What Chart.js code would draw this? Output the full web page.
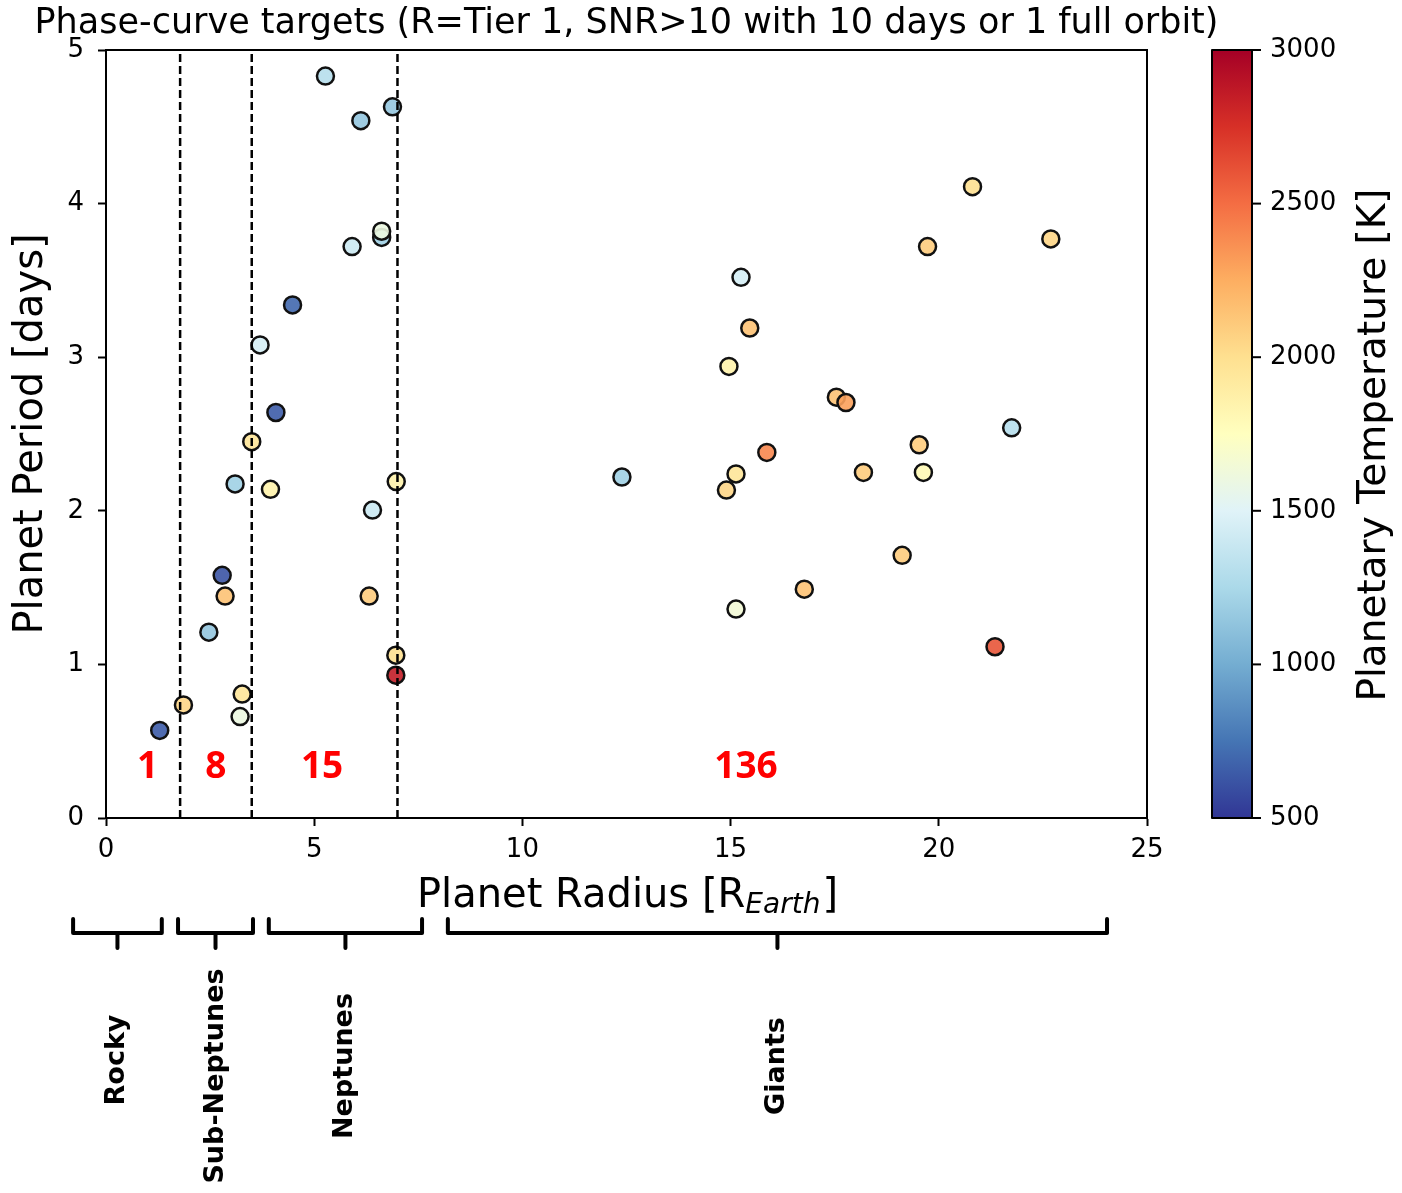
<!DOCTYPE html>
<html>
<head>
<meta charset="utf-8">
<script src="https://cdn.jsdelivr.net/npm/chart.js@4.4.0/dist/chart.umd.min.js"></script>
<style>
  html, body { margin: 0; padding: 0; background: #fff; }
  #wrap { width: 1402px; height: 1193px; }
</style>
</head>
<body>
<div id="wrap"><canvas id="myChart"></canvas></div>
<script>
// planet radius [R_earth], period [days], temperature [K]
const radius = [1.29, 1.86, 2.47, 2.79, 2.86, 3.10, 3.27, 3.22, 3.50, 3.70, 3.95, 4.08, 4.48, 5.27, 5.91, 6.12,
  6.40, 6.32, 6.62, 6.62, 6.88, 6.97, 6.96, 6.96,
  20.81, 19.73, 22.69, 15.25, 15.46, 14.96, 17.54, 17.77, 21.75, 19.53, 15.87, 12.39, 15.13, 14.90,
  18.19, 19.63, 19.12, 16.77, 15.13, 21.35];
const period = [0.57, 0.736, 1.21, 1.58, 1.445, 2.175, 0.807, 0.66, 2.45, 3.08, 2.14, 2.64, 3.34, 4.83, 3.72, 4.54,
  2.005, 1.445, 3.78, 3.82, 4.63, 2.19, 1.06, 0.93,
  4.11, 3.72, 3.77, 3.52, 3.19, 2.94, 2.74, 2.705, 2.54, 2.43, 2.38, 2.22, 2.24, 2.135,
  2.25, 2.25, 1.71, 1.49, 1.36, 1.115];
const tempK = [650, 2050, 1150, 620, 2150, 1200, 1950, 1600, 1950, 1450, 1850, 650, 700, 1300, 1400, 1150,
  1400, 2100, 1200, 1600, 1150, 1850, 2000, 2850,
  2000, 2100, 2050, 1450, 2150, 1850, 2150, 2300, 1300, 2100, 2400, 1200, 1950, 2050,
  2100, 1800, 2100, 2150, 1650, 2600];

const classEdges = [1.78, 3.5, 7.0];
const classNames = ['Rocky', 'Sub-Neptunes', 'Neptunes', 'Giants'];
const classCounts = ['1', '8', '15', '136'];
const countAt = [1.0, 2.64, 5.19, 15.37];
const classSpan = [[-0.79, 1.34], [1.73, 3.53], [3.91, 7.59], [8.21, 24.04]];
const tempTicks = [500, 1000, 1500, 2000, 2500, 3000];

// RdYlBu reversed
const cmapStops = ['#313695', '#4575b4', '#74add1', '#abd9e9', '#e0f3f8', '#ffffbf',
  '#fee090', '#fdae61', '#f46d43', '#d73027', '#a50026'];

function hex(c) {
  return [parseInt(c.slice(1, 3), 16), parseInt(c.slice(3, 5), 16), parseInt(c.slice(5, 7), 16)];
}
function cmap(t, alpha) {
  let f = (t - 500) / 2500;
  f = Math.max(0, Math.min(1, f));
  const p = f * (cmapStops.length - 1);
  const i = Math.min(Math.floor(p), cmapStops.length - 2);
  const k = p - i;
  const a = hex(cmapStops[i]), b = hex(cmapStops[i + 1]);
  const c = a.map((v, j) => Math.round(v + (b[j] - v) * k));
  return `rgba(${c[0]},${c[1]},${c[2]},${alpha})`;
}

const points = radius.map((r, i) => ({ x: r, y: period[i] }));
const pointColors = tempK.map(t => cmap(t, 0.9));

const dashSets = classEdges.map(e => ({
  type: 'line',
  data: [{ x: e, y: 0 }, { x: e, y: 5 }],
  borderColor: '#000',
  borderWidth: 2.5,
  borderDash: [8, 4],
  pointRadius: 0,
  order: 0
}));

const decor = {
  id: 'decor',
  afterDraw(chart) {
    const ctx = chart.ctx;
    const a = chart.chartArea;
    const xs = chart.scales.x, ys = chart.scales.y;
    ctx.save();

    // frame
    ctx.strokeStyle = '#000';
    ctx.lineWidth = 2;
    ctx.strokeRect(a.left, a.top, a.right - a.left, a.bottom - a.top);

    // title
    ctx.fillStyle = '#000';
    ctx.font = '35px "DejaVu Sans"';
    ctx.textAlign = 'center';
    ctx.textBaseline = 'alphabetic';
    ctx.fillText('Phase-curve targets (R=Tier 1, SNR>10 with 10 days or 1 full orbit)', (a.left + a.right) / 2, 33);

    // x label with subscript
    const p1 = 'Planet Radius [R', p2 = 'Earth', p3 = ']';
    ctx.font = '40px "DejaVu Sans"';
    const w1 = ctx.measureText(p1).width, w3 = ctx.measureText(p3).width;
    ctx.font = 'italic 28px "DejaVu Sans"';
    const w2 = ctx.measureText(p2).width;
    let x0 = (a.left + a.right) / 2 - (w1 + w2 + w3) / 2;
    ctx.textAlign = 'left';
    ctx.font = '40px "DejaVu Sans"';
    ctx.fillText(p1, x0, 907);
    ctx.font = 'italic 28px "DejaVu Sans"';
    ctx.fillText(p2, x0 + w1, 913);
    ctx.font = '40px "DejaVu Sans"';
    ctx.fillText(p3, x0 + w1 + w2 + 2, 907);

    // class counts
    ctx.fillStyle = '#ff0000';
    ctx.font = 'bold 37px "Open Sans"';
    ctx.textAlign = 'center';
    ctx.textBaseline = 'middle';
    classCounts.forEach((c, i) => {
      ctx.fillText(c, xs.getPixelForValue(countAt[i]), ys.getPixelForValue(0.33));
    });

    // brackets under the axis
    ctx.strokeStyle = '#000';
    ctx.fillStyle = '#000';
    ctx.lineWidth = 4;
    ctx.lineJoin = 'round';
    ctx.lineCap = 'round';
    const labelY = [1060, 1076, 1066, 1066];
    classSpan.forEach((s, i) => {
      const l = xs.getPixelForValue(s[0]), r = xs.getPixelForValue(s[1]);
      const m = (l + r) / 2;
      ctx.beginPath();
      ctx.moveTo(l, 919);
      ctx.lineTo(l, 933);
      ctx.lineTo(r, 933);
      ctx.lineTo(r, 919);
      ctx.moveTo(m, 933);
      ctx.lineTo(m, 948);
      ctx.stroke();
      ctx.save();
      ctx.translate(m, labelY[i]);
      ctx.rotate(-Math.PI / 2);
      ctx.font = 'bold 27px "DejaVu Sans"';
      ctx.textAlign = 'center';
      ctx.textBaseline = 'middle';
      ctx.fillText(classNames[i], 0, 0);
      ctx.restore();
    });

    // colorbar
    const cbL = 1212, cbR = 1252;
    const grad = ctx.createLinearGradient(0, a.bottom, 0, a.top);
    cmapStops.forEach((c, i) => grad.addColorStop(i / (cmapStops.length - 1), c));
    ctx.fillStyle = grad;
    ctx.fillRect(cbL, a.top, cbR - cbL, a.bottom - a.top);
    ctx.lineWidth = 2;
    ctx.strokeRect(cbL, a.top, cbR - cbL, a.bottom - a.top);
    ctx.fillStyle = '#000';
    ctx.font = '26px "DejaVu Sans"';
    ctx.textAlign = 'left';
    ctx.textBaseline = 'middle';
    ctx.lineCap = 'butt';
    tempTicks.forEach(t => {
      const y = a.bottom - (t - 500) / 2500 * (a.bottom - a.top);
      ctx.beginPath();
      ctx.moveTo(cbR, y);
      ctx.lineTo(cbR + 9, y);
      ctx.stroke();
      ctx.fillText(String(t), cbR + 18, y);
    });
    ctx.save();
    ctx.translate(1375, (a.top + a.bottom) / 2 + 11);
    ctx.rotate(-Math.PI / 2);
    ctx.font = '39px "DejaVu Sans"';
    ctx.textAlign = 'center';
    ctx.fillText('Planetary Temperature [K]', 0, 0);
    ctx.restore();

    ctx.restore();
  }
};

new Chart(document.getElementById('myChart'), {
  type: 'scatter',
  data: {
    datasets: [{
      data: points,
      backgroundColor: pointColors,
      borderColor: '#111',
      borderWidth: 2.5,
      pointRadius: 8.5,
      order: 1
    }, ...dashSets]
  },
  options: {
    responsive: true,
    maintainAspectRatio: false,
    animation: false,
    layout: { padding: { left: 0, top: 50, right: 255, bottom: 0 } },
    plugins: { legend: { display: false }, tooltip: { enabled: false } },
    scales: {
      x: {
        type: 'linear',
        min: 0, max: 25,
        afterFit: s => { s.height = 375; },
        ticks: { stepSize: 5, color: '#000', font: { family: 'DejaVu Sans', size: 26 }, padding: 9, maxRotation: 0 },
        grid: { drawOnChartArea: false, color: '#000', tickLength: 8, tickWidth: 2 },
        border: { color: '#000', width: 2 }
      },
      y: {
        min: 0, max: 5,
        afterFit: s => { s.width = 106; },
        ticks: { stepSize: 1, color: '#000', font: { family: 'DejaVu Sans', size: 26 }, padding: 14 },
        grid: { drawOnChartArea: false, color: '#000', tickLength: 8, tickWidth: 2 },
        border: { color: '#000', width: 2 },
        title: { display: true, text: 'Planet Period [days]', color: '#000',
          font: { family: 'DejaVu Sans', size: 40 }, padding: { top: 8, bottom: 0 } }
      }
    }
  },
  plugins: [decor]
});
</script>
</body>
</html>
